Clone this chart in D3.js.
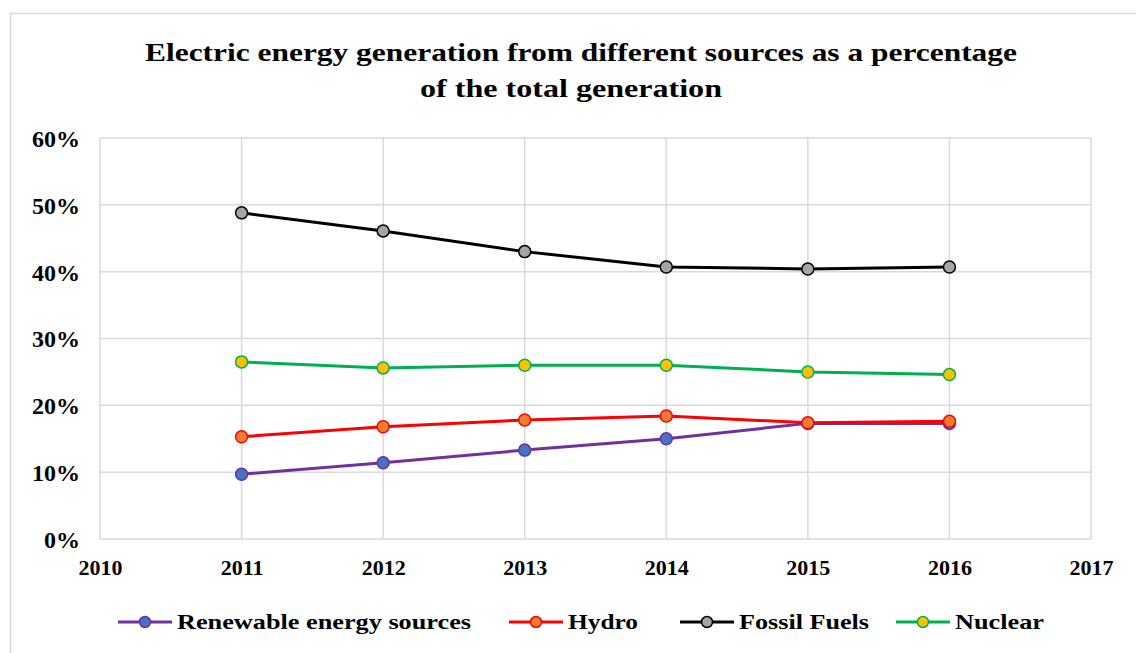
<!DOCTYPE html>
<html><head><meta charset="utf-8">
<script src="https://cdn.jsdelivr.net/npm/d3@7"></script>
<style>
html,body{margin:0;padding:0;background:#fff;}
text{font-family:"Liberation Serif","Times New Roman",serif;font-weight:bold;fill:#000;}
</style></head>
<body><svg id="c" width="1136" height="653"></svg>
<script>
const years = [2011, 2012, 2013, 2014, 2015, 2016];
const renewable = [9.7, 11.4, 13.3, 15.0, 17.3, 17.3];
const hydro = [15.3, 16.8, 17.8, 18.4, 17.4, 17.6];
const fossil = [48.8, 46.1, 43.0, 40.7, 40.4, 40.7];
const nuclear = [26.5, 25.6, 26.0, 26.0, 25.0, 24.6];
const seriesNames = ["Renewable energy sources", "Hydro", "Fossil Fuels", "Nuclear"];
const xTicks = [2010, 2011, 2012, 2013, 2014, 2015, 2016, 2017];
const yTicks = [0, 10, 20, 30, 40, 50, 60];
const titleLines = ["Electric energy generation from different sources as a percentage", "of the total generation"];

const series = [
  {name: seriesNames[0], values: renewable, line: "#7030a0", fill: "#4472c4"},
  {name: seriesNames[1], values: hydro, line: "#ff0000", fill: "#ed7d31"},
  {name: seriesNames[2], values: fossil, line: "#000000", fill: "#a5a5a5"},
  {name: seriesNames[3], values: nuclear, line: "#00b050", fill: "#ffc000"}
];

const svg = d3.select("#c");
// outer frame
svg.append("rect").attr("x", 10.5).attr("y", 13.5).attr("width", 1140).attr("height", 660)
  .attr("fill", "none").attr("stroke", "#d9d9d9").attr("stroke-width", 1.5);

const x = d3.scaleLinear().domain([2010, 2017]).range([100, 1091]);
const y = d3.scaleLinear().domain([0, 60]).range([539, 138]);

// title
svg.append("text").attr("x", 581).attr("y", 61).attr("text-anchor", "middle")
  .style("font-size", "25px").attr("textLength", 872).attr("lengthAdjust", "spacingAndGlyphs").text(titleLines[0]);
svg.append("text").attr("x", 571).attr("y", 97).attr("text-anchor", "middle")
  .style("font-size", "25px").attr("textLength", 302).attr("lengthAdjust", "spacingAndGlyphs").text(titleLines[1]);

// grid
const g = svg.append("g");
g.selectAll("line.h").data(yTicks).join("line").attr("class", "h")
  .attr("x1", x(2010)).attr("x2", x(2017)).attr("y1", d => y(d)).attr("y2", d => y(d))
  .attr("stroke", "#d9d9d9").attr("stroke-width", 1.5);
g.selectAll("line.v").data(xTicks).join("line").attr("class", "v")
  .attr("x1", d => x(d)).attr("x2", d => x(d)).attr("y1", y(0)).attr("y2", y(60))
  .attr("stroke", "#d9d9d9").attr("stroke-width", 1.5);

// axes via d3
const yAxis = svg.append("g").attr("transform", `translate(${x(2010)},0)`)
  .call(d3.axisLeft(y).tickValues(yTicks).tickFormat(d => d + "%").tickSize(0).tickPadding(20));
yAxis.select(".domain").remove();
yAxis.selectAll("text").style("font-size", "24px").style("font-family", "Liberation Serif").style("font-weight", "bold").attr("dy", "0.35em");

const xAxis = svg.append("g").attr("transform", `translate(0,${y(0)})`)
  .call(d3.axisBottom(x).tickValues(xTicks).tickFormat(d3.format("d")).tickSize(0).tickPadding(20));
xAxis.select(".domain").remove();
xAxis.selectAll("text").style("font-size", "22px").style("font-family", "Liberation Serif").style("font-weight", "bold");

// lines
const line = d3.line().x((d, i) => x(years[i])).y(d => y(d));
series.forEach(s => {
  svg.append("path").datum(s.values).attr("d", line).attr("fill", "none")
    .attr("stroke", s.line).attr("stroke-width", 3);
});
series.forEach(s => {
  svg.append("g").selectAll("circle").data(s.values).join("circle")
    .attr("cx", (d, i) => x(years[i])).attr("cy", d => y(d)).attr("r", 6)
    .attr("fill", s.fill).attr("stroke", s.line).attr("stroke-width", 1.5);
});

// legend
const legX = [118, 509, 680, 896];
const legW = [294, 70, 130, 89];
const leg = svg.append("g");
series.forEach((s, i) => {
  const lx = legX[i], ly = 622;
  leg.append("line").attr("x1", lx).attr("x2", lx + 54).attr("y1", ly).attr("y2", ly)
    .attr("stroke", s.line).attr("stroke-width", 3);
  leg.append("circle").attr("cx", lx + 27).attr("cy", ly).attr("r", 5.5)
    .attr("fill", s.fill).attr("stroke", s.line).attr("stroke-width", 1.5);
  leg.append("text").attr("x", lx + 59).attr("y", ly + 7).style("font-size", "22px")
    .attr("textLength", legW[i]).attr("lengthAdjust", "spacingAndGlyphs").text(s.name);
});
</script></body></html>
